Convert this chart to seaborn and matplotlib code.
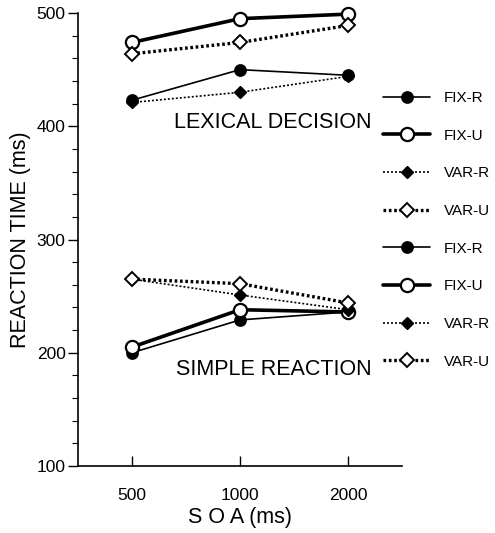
import pandas as pd
import matplotlib
matplotlib.use("Agg")
import matplotlib.pyplot as plt
import seaborn as sns
from matplotlib.ticker import MultipleLocator

# SOA conditions (ms)
soa = ["500", "1000", "2000"]

# lexical decision task
lex_fix_r = [423, 450, 445]
lex_fix_u = [474, 495, 499]
lex_var_r = [421, 430, 444]
lex_var_u = [464, 474, 489]

# simple reaction task
sim_fix_r = [200, 229, 236]
sim_fix_u = [205, 238, 236]
sim_var_r = [265, 251, 238]
sim_var_u = [265, 261, 244]

conditions = ["FIX-R", "FIX-U", "VAR-R", "VAR-U"]

# line / marker look for each condition
styles = {
    "FIX-R": dict(lw=1.2, ls="-", marker="o", ms=8, mfc="black", mew=1.2),
    "FIX-U": dict(lw=2.6, ls="-", marker="o", ms=9.5, mfc="white", mew=1.6),
    "VAR-R": dict(lw=1.2, ls=(0, (1.2, 1.2)), marker="D", ms=6.5, mfc="black", mew=1.0),
    "VAR-U": dict(lw=2.4, ls=(0, (0.8, 0.8)), marker="D", ms=7, mfc="white", mew=1.4),
}

sns.set_style("ticks")
plt.rcParams["font.family"] = ["Liberation Sans", "DejaVu Sans"]
plt.rcParams.update({
    "text.color": "black", "axes.labelcolor": "black", "axes.edgecolor": "black",
    "xtick.color": "black", "ytick.color": "black",
})

fig = plt.figure(figsize=(4.95, 5.33), dpi=100)
ax = fig.add_axes([78 / 495, 67 / 533, 324 / 495, 453 / 533])

groups = [
    [lex_fix_r, lex_fix_u, lex_var_r, lex_var_u],
    [sim_fix_r, sim_fix_u, sim_var_r, sim_var_u],
]
for series in groups:
    for cond, vals in zip(conditions, series):
        df = pd.DataFrame({"soa": soa, "rt": vals})
        st = styles[cond]
        sns.lineplot(data=df, x="soa", y="rt", ax=ax, sort=False, color="black",
                     linewidth=st["lw"], linestyle=st["ls"], marker=st["marker"],
                     markersize=st["ms"], markerfacecolor=st["mfc"],
                     markeredgecolor="black", markeredgewidth=st["mew"],
                     label=cond, legend=False, clip_on=False, zorder=3)

ax.set_xlim(-0.5, 2.5)
ax.set_ylim(100, 500)
ax.yaxis.set_major_locator(MultipleLocator(100))
ax.yaxis.set_minor_locator(MultipleLocator(20))
ax.tick_params(axis="y", which="major", direction="out", length=7, width=1,
               labelsize=12.5, pad=2)
ax.tick_params(axis="y", which="minor", direction="out", length=4, width=0.8)
ax.tick_params(axis="x", which="major", direction="in", length=7, width=1,
               labelsize=12.5, pad=16)
for s in ["left", "bottom"]:
    ax.spines[s].set_linewidth(1.2)
ax.spines["top"].set_visible(False)
ax.spines["right"].set_visible(False)

ax.set_xlabel("S O A (ms)", fontsize=15.5, labelpad=3)
ax.set_ylabel("REACTION TIME (ms)", fontsize=15.5, labelpad=4)

ax.text(2.22, 403, "LEXICAL DECISION", fontsize=15.5, ha="right", va="center")
ax.text(2.22, 185, "SIMPLE REACTION", fontsize=15.5, ha="right", va="center")

handles, labels = ax.get_legend_handles_labels()
fig.legend(handles, labels, loc="upper left", bbox_to_anchor=(383 / 495, 1 - 91 / 533),
           frameon=False, fontsize=11, handlelength=3.1, handletextpad=0.9,
           labelspacing=1.55, borderaxespad=0, borderpad=0)

fig.savefig("out.png", dpi=100)
